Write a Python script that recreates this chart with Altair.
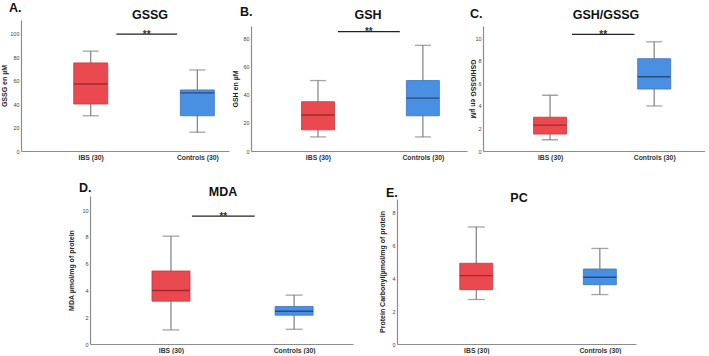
import altair as alt
import pandas as pd

groups = ["IBS (30)", "Controls (30)"]
group_pos = [0, 1]

# box statistics per group: [IBS, Controls]
gssg_min = [30, 16]
gssg_q1 = [40, 30]
gssg_med = [57, 49.5]
gssg_q3 = [75, 52]
gssg_max = [85, 69]

gsh_min = [10, 10]
gsh_q1 = [15, 25]
gsh_med = [25.5, 37.5]
gsh_q3 = [35, 50]
gsh_max = [50, 75]

ratio_min = [1.0, 4.0]
ratio_q1 = [1.5, 5.5]
ratio_med = [2.3, 6.6]
ratio_q3 = [3.0, 8.2]
ratio_max = [4.95, 9.7]

mda_min = [1.05, 1.1]
mda_q1 = [3.2, 2.15]
mda_med = [4.0, 2.45]
mda_q3 = [5.45, 2.8]
mda_max = [8.05, 3.65]

pc_min = [2.7, 3.0]
pc_q1 = [3.3, 3.6]
pc_med = [4.15, 4.05]
pc_q3 = [4.9, 4.55]
pc_max = [7.1, 5.8]

# significance bars: (start, end) in group-position units, height in data units
gssg_sig = (0.24, 0.81, 99.5)
gsh_sig = (0.19, 0.78, 84.7)
ratio_sig = (0.21, 0.81, 10.35)
mda_sig = (0.17, 0.68, 9.55)

FILLS = ["#EA4A4F", "#4A90E2"]
STROKES = ["#C23A3E", "#3A74BD"]
MEDIANS = ["#7E1F22", "#1C2F52"]
WHISKER = "#7F7F7F"
FONT = "Liberation Sans"

label_expr = " : ".join(
    [f"datum.value == {p} ? '{g}'" for p, g in zip(group_pos[:-1], groups[:-1])]
) + f" : '{groups[-1]}'"


def panel(letter, title, ytitle, stats, yvals, ydomain, yrange, width, height,
          xdomain, sig, title_xy, letter_xy, ytitle_angle, ytitle_pad, box, cap):
    lo, q1, med, q3, hi = stats
    df = pd.DataFrame({"group": groups, "pos": group_pos, "lo": lo, "q1": q1,
                       "med": med, "q3": q3, "hi": hi})
    xaxis = alt.Axis(values=group_pos, labelExpr=label_expr, title=None, ticks=False,
                     grid=False, domainColor="#8c8c8c", domainWidth=1.2,
                     labelFontSize=6.8, labelFontWeight="bold", labelColor="#333333",
                     labelFont=FONT, labelPadding=3)
    yaxis = alt.Axis(values=yvals, title=ytitle, ticks=False, grid=False,
                     domainColor="#8c8c8c", domainWidth=1.2, labelFontSize=5.5,
                     labelColor="#444444", labelFont=FONT, labelPadding=2,
                     titleFontSize=7, titleFontWeight="bold", titleColor="#222222",
                     titleFont=FONT, titlePadding=ytitle_pad, titleAngle=ytitle_angle)
    xs = alt.Scale(domain=xdomain, nice=False, zero=False)
    ys = alt.Scale(domain=ydomain, range=yrange, nice=False, zero=False)

    def X(f):
        return alt.X(f"{f}:Q", scale=xs, axis=xaxis)

    def Y(f):
        return alt.Y(f"{f}:Q", scale=ys, axis=yaxis)

    base = alt.Chart(df)
    whisk = base.mark_rule(color=WHISKER, strokeWidth=1.2).encode(
        x=X("pos"), y=Y("lo"), y2="hi:Q")
    cap_lo = base.mark_tick(orient="horizontal", size=cap, thickness=1.3,
                            color=WHISKER).encode(x=X("pos"), y=Y("lo"))
    cap_hi = base.mark_tick(orient="horizontal", size=cap, thickness=1.3,
                            color=WHISKER).encode(x=X("pos"), y=Y("hi"))
    boxes = base.mark_bar(size=box, strokeWidth=0.8).encode(
        x=X("pos"), y=Y("q1"), y2="q3:Q",
        fill=alt.Fill("group:N", scale=alt.Scale(domain=groups, range=FILLS), legend=None),
        stroke=alt.Stroke("group:N", scale=alt.Scale(domain=groups, range=STROKES), legend=None))
    medians = base.mark_tick(orient="horizontal", size=box, thickness=1.4).encode(
        x=X("pos"), y=Y("med"),
        color=alt.Color("group:N", scale=alt.Scale(domain=groups, range=MEDIANS), legend=None))

    layers = [whisk, cap_lo, cap_hi, boxes, medians]
    if sig is not None:
        sdf = pd.DataFrame({"x1": [sig[0]], "x2": [sig[1]], "y": [sig[2]],
                            "mid": [(sig[0] + sig[1]) / 2], "t": ["**"]})
        sb = alt.Chart(sdf)
        layers.append(sb.mark_rule(color="#222222", strokeWidth=1.3).encode(
            x=X("x1"), x2="x2:Q", y=Y("y")))
        layers.append(sb.mark_text(dy=3.5, fontSize=10, fontWeight="bold", color="#333333",
                                   font=FONT, baseline="alphabetic").encode(
            x=X("mid"), y=Y("y"), text="t:N"))
    tdf = pd.DataFrame({"t": [title]})
    layers.append(alt.Chart(tdf).mark_text(fontSize=12.5, fontWeight="bold", font=FONT,
                                           color="#111111", baseline="middle",
                                           align="center").encode(
        x=alt.value(title_xy[0]), y=alt.value(title_xy[1]), text="t:N"))
    ldf = pd.DataFrame({"t": [letter]})
    layers.append(alt.Chart(ldf).mark_text(fontSize=12.5, fontWeight="bold", font=FONT,
                                           color="#111111", baseline="alphabetic",
                                           align="left").encode(
        x=alt.value(letter_xy[0]), y=alt.value(letter_xy[1]), text="t:N"))
    return alt.layer(*layers).properties(width=width, height=height)


pA = panel("A.", "GSSG", "GSSG en µM",
           (gssg_min, gssg_q1, gssg_med, gssg_q3, gssg_max), [0, 20, 40, 60, 80, 100],
           [0, 111.5], [131, 0], 208, 131, [-0.607, 1.25], gssg_sig,
           (129, -5.5), (-12, -8.5), -90, 2, 34, 16)
pB = panel("B.", "GSH", "GSH en µM",
           (gsh_min, gsh_q1, gsh_med, gsh_q3, gsh_max), [0, 20, 40, 60, 80],
           [0, 88.7], [131, 6], 216, 131, [-0.591, 1.373], gsh_sig,
           (117, -5.5), (-11, -4), -90, 4, 33, 16)
pC = panel("C.", "GSH/GSSG", "GSH/GSSG en µM",
           (ratio_min, ratio_q1, ratio_med, ratio_q3, ratio_max), [0, 2, 4, 6, 8, 10],
           [0, 11.1], [131, 6], 222, 131, [-0.596, 1.44], ratio_sig,
           (123, -5), (-13, -2.5), 90, 5, 33, 16)
pD = panel("D.", "MDA", "MDA µmol/mg of protein",
           (mda_min, mda_q1, mda_med, mda_q3, mda_max), [0, 2, 4, 6, 8, 10],
           [0, 11.05], [148, 0], 263, 148, [-0.617, 1.4375], mda_sig,
           (133, -4.5), (-11, -4), -90, 7, 38, 17)
pE = panel("E.", "PC", "Protein Carbonyl(µmol/mg of protein",
           (pc_min, pc_q1, pc_med, pc_q3, pc_max), [0, 2, 4, 6, 8],
           [0, 8.8], [148, 3], 239, 148, [-0.601, 1.252], None,
           (122, 1.5), (-11, 1), -90, 6, 33, 17)

spacer = alt.Chart(pd.DataFrame({"v": [0]})).mark_point(opacity=0).encode(
    x=alt.value(0), y=alt.value(0)).properties(width=21, height=10)

top = alt.hconcat(pA, pB, pC, spacing=2)
bottom = alt.hconcat(spacer, pD, pE, spacing=25)
chart = alt.vconcat(top, bottom, spacing=21).properties(
    padding={"left": 0, "top": 1, "right": 0, "bottom": 0}
).configure(background="white", view=alt.ViewConfig(stroke=None))

chart.save("out.html", embed_options={"renderer": "svg", "actions": False})
